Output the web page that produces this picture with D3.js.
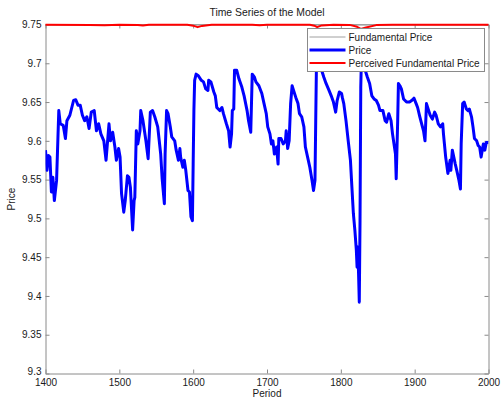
<!DOCTYPE html>
<head>
    <meta charset="utf-8">
    <title>Time Series of the Model</title>
    <script src="https://d3js.org/d3.v7.min.js"></script>
    <style>
        body { margin: 0; background: #fff; }
        text { font-family: 'Liberation Sans', Arial, sans-serif; font-size: 10px; fill: #1a1a1a; }
    </style>
</head>
<body>
<script>
    // periods / price
    var periods = [1400,1402,1404,1406,1408,1410,1412,1415,1418,1420,1424,1427,1429,1433,1438,1441,1444,1447,1450,1453,1456,1459,1462,1466,1469,1472,1475,1479,1482,1486,1488,1491,1494,1496,1499,1501,1503,1506,1508,1511,1513,1515,1518,1520,1521,1523,1525,1528,1529,1532,1536,1539,1542,1545,1548,1552,1556,1558,1561,1562,1564,1566,1569,1571,1575,1577,1580,1582,1583,1586,1588,1590,1593,1595,1597,1599,1600,1601,1602,1604,1607,1611,1614,1617,1620,1621,1624,1628,1630,1632,1636,1639,1641,1645,1648,1650,1652,1653,1655,1656,1659,1662,1666,1669,1673,1675,1678,1680,1683,1685,1689,1693,1696,1699,1701,1704,1706,1708,1710,1713,1715,1716,1719,1722,1725,1726,1728,1730,1732,1734,1736,1739,1742,1744,1747,1750,1752,1755,1758,1761,1763,1765,1766,1767,1769,1772,1774,1777,1780,1784,1787,1790,1793,1795,1798,1801,1802,1804,1807,1810,1813,1815,1817,1819,1821,1822,1823,1824,1825,1826,1827,1828,1831,1833,1836,1839,1842,1845,1848,1851,1853,1857,1860,1862,1865,1868,1870,1874,1875,1877,1878,1880,1882,1885,1889,1893,1896,1899,1902,1904,1907,1910,1912,1914,1916,1919,1921,1924,1927,1929,1932,1935,1938,1939,1942,1945,1948,1949,1951,1953,1955,1957,1960,1962,1963,1965,1967,1970,1972,1974,1977,1979,1981,1984,1986,1988,1990,1993,1995,1997,2000];
    var price = [9.588,9.562,9.581,9.579,9.534,9.553,9.523,9.549,9.639,9.622,9.620,9.603,9.626,9.633,9.652,9.653,9.646,9.646,9.633,9.626,9.631,9.616,9.637,9.639,9.613,9.622,9.609,9.600,9.575,9.622,9.600,9.611,9.592,9.575,9.590,9.579,9.532,9.508,9.523,9.555,9.553,9.540,9.485,9.523,9.527,9.613,9.596,9.613,9.639,9.626,9.600,9.577,9.637,9.639,9.631,9.618,9.583,9.551,9.519,9.583,9.639,9.635,9.618,9.605,9.600,9.588,9.575,9.590,9.579,9.566,9.575,9.562,9.536,9.534,9.502,9.497,9.570,9.639,9.678,9.686,9.684,9.678,9.676,9.667,9.665,9.678,9.676,9.663,9.658,9.643,9.639,9.643,9.635,9.622,9.613,9.592,9.609,9.639,9.641,9.691,9.691,9.680,9.669,9.658,9.639,9.626,9.611,9.686,9.682,9.676,9.671,9.661,9.648,9.635,9.618,9.609,9.596,9.600,9.583,9.592,9.570,9.603,9.603,9.596,9.600,9.613,9.590,9.600,9.648,9.671,9.665,9.656,9.648,9.635,9.631,9.618,9.592,9.579,9.566,9.549,9.536,9.549,9.626,9.700,9.712,9.705,9.691,9.682,9.674,9.665,9.658,9.650,9.637,9.652,9.663,9.661,9.656,9.648,9.626,9.600,9.575,9.540,9.506,9.485,9.459,9.437,9.463,9.429,9.392,9.497,9.669,9.710,9.705,9.691,9.682,9.674,9.658,9.654,9.652,9.646,9.639,9.639,9.626,9.624,9.635,9.626,9.609,9.583,9.551,9.626,9.674,9.671,9.667,9.654,9.650,9.650,9.652,9.655,9.648,9.643,9.631,9.620,9.613,9.600,9.648,9.639,9.633,9.628,9.637,9.633,9.622,9.618,9.622,9.609,9.579,9.558,9.575,9.562,9.588,9.579,9.570,9.562,9.549,9.538,9.596,9.648,9.650,9.641,9.639,9.641,9.631,9.618,9.603,9.600,9.594,9.592,9.579,9.596,9.588,9.598,9.598];

    var fundPeriods = [1400, 2000];
    var fundamental = [9.75, 9.75];

    var percPeriods = [1400,1460,1480,1500,1525,1532,1540,1592,1600,1606,1612,1625,1680,1690,1700,1758,1764,1768,1774,1790,1812,1822,1827,1834,1848,1870,2000];
    var perceived = [9.7497,9.7495,9.7490,9.7497,9.7495,9.7487,9.7497,9.7497,9.7485,9.7466,9.7482,9.7497,9.7497,9.7491,9.7497,9.7497,9.7485,9.7466,9.7488,9.7497,9.7495,9.7470,9.7443,9.7462,9.7492,9.7497,9.7497];

    var xTicks = [1400, 1500, 1600, 1700, 1800, 1900, 2000];
    var yTicks = [9.3, 9.35, 9.4, 9.45, 9.5, 9.55, 9.6, 9.65, 9.7, 9.75];

    var seriesNames = ["Fundamental Price", "Price", "Perceived Fundamental Price"];
    var seriesColors = ["#a0a0a0", "#0000ff", "#ff0000"];
    var seriesWidths = [1, 3, 2];

    var width = 501,
        height = 399,
        plotL = 45.5, plotR = 488.5, plotT = 24.5, plotB = 373.5;

    var svg = d3.select("body").append("svg")
        .attr("width", width)
        .attr("height", height);

    var x = d3.scaleLinear().domain([1400, 2000]).range([plotL, plotR]);
    var y = d3.scaleLinear().domain([9.3, 9.75]).range([plotB, plotT]);

    svg.append("defs").append("clipPath").attr("id", "plot")
        .append("rect").attr("x", plotL).attr("y", plotT - 2)
        .attr("width", plotR - plotL).attr("height", plotB - plotT + 2);

    var line = d3.line()
        .x(function (d) { return x(d[0]); })
        .y(function (d) { return y(d[1]); });

    var series = [
        d3.zip(fundPeriods, fundamental),
        d3.zip(periods, price),
        d3.zip(percPeriods, perceived)
    ];

    var axisColor = "#8a8a8a";

    // axes, MATLAB style: box with inward ticks on all sides
    var gx = svg.append("g").attr("transform", "translate(0," + plotB + ")")
        .call(d3.axisBottom(x).tickValues(xTicks).tickSizeInner(-4).tickSizeOuter(0).tickPadding(5)
            .tickFormat(function (d) { return d; }));
    var gy = svg.append("g").attr("transform", "translate(" + plotL + ",0)")
        .call(d3.axisLeft(y).tickValues(yTicks).tickSizeInner(-4).tickSizeOuter(0).tickPadding(4)
            .tickFormat(function (d) { return String(d); }));
    var gt = svg.append("g").attr("transform", "translate(0," + plotT + ")")
        .call(d3.axisTop(x).tickValues(xTicks).tickSizeInner(-4).tickSizeOuter(0).tickFormat(""));
    var gr = svg.append("g").attr("transform", "translate(" + plotR + ",0)")
        .call(d3.axisRight(y).tickValues(yTicks).tickSizeInner(-4).tickSizeOuter(0).tickFormat(""));

    [gx, gy, gt, gr].forEach(function (g) {
        g.select(".domain").attr("stroke", axisColor);
        g.selectAll(".tick line").attr("stroke", axisColor);
        g.selectAll(".tick text").attr("fill", "#1a1a1a")
            .style("font-family", "'Liberation Sans', Arial, sans-serif").style("font-size", "10px");
    });
    // lowest y label sits a touch above its tick, as in the original
    gy.selectAll(".tick text").filter(function (d) { return d == 9.3; }).attr("dy", "0.1em");

    svg.selectAll(".series")
        .data(series)
        .enter().append("path")
        .attr("class", "series")
        .attr("clip-path", function (d, i) { return i == 1 ? "url(#plot)" : null; })
        .attr("d", line)
        .attr("fill", "none")
        .attr("stroke", function (d, i) { return seriesColors[i]; })
        .attr("stroke-width", function (d, i) { return seriesWidths[i]; })
        .attr("stroke-linejoin", "round");

    // titles
    svg.append("text").attr("x", (plotL + plotR) / 2).attr("y", 16)
        .attr("text-anchor", "middle").style("font-size", "10.4px").text("Time Series of the Model");
    svg.append("text").attr("x", (plotL + plotR) / 2).attr("y", 397)
        .attr("text-anchor", "middle").text("Period");
    svg.append("text").attr("transform", "translate(15," + (plotT + plotB) / 2 + ") rotate(-90)")
        .attr("text-anchor", "middle").text("Price");

    // legend
    var legend = svg.append("g").attr("transform", "translate(307.5,28.5)");
    legend.append("rect").attr("width", 177).attr("height", 43)
        .attr("fill", "#fff").attr("stroke", axisColor);
    var item = legend.selectAll(".item")
        .data(seriesNames)
        .enter().append("g")
        .attr("class", "item")
        .attr("transform", function (d, i) { return "translate(0," + (8.5 + i * 13) + ")"; });
    item.append("line").attr("x1", 2).attr("x2", 38)
        .attr("stroke", function (d, i) { return seriesColors[i]; })
        .attr("stroke-width", function (d, i) { return seriesWidths[i]; });
    item.append("text").attr("x", 41).attr("y", 4).text(function (d) { return d; });
</script>
</body>
</html>
